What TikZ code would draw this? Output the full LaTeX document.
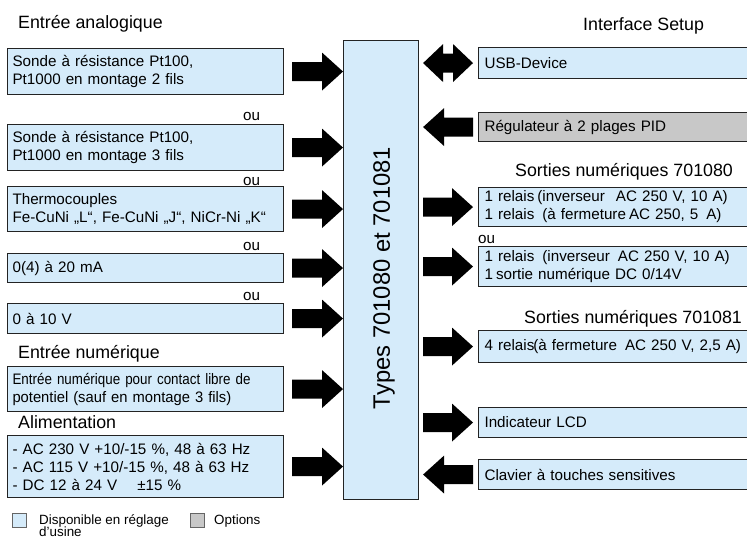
\documentclass[tikz,border=0pt]{standalone}
\usepackage{fontspec}
\setmainfont{Liberation Sans}
\usetikzlibrary{calc}
\definecolor{boxblue}{RGB}{213,235,250}
\definecolor{boxgrey}{RGB}{200,200,200}
\definecolor{edge}{RGB}{35,35,35}
\newcommand{\bxfont}{\fontsize{15.2}{18}\selectfont}
\newcommand{\hdfont}{\fontsize{17.8}{21}\selectfont}
\newcommand{\lgfont}{\fontsize{13.4}{14}\selectfont}
\newcommand{\ttlfont}{\fontsize{23.8}{28}\selectfont}
% right-pointing block arrow: #1 body start, #2 tip
\newcommand{\rarr}[2]{\fill ($(#1)+(0,-9.5)$) -- ($(#2)+(-21,-9.5)$) -- ($(#2)+(-21,-19)$) -- (#2) -- ($(#2)+(-21,19)$) -- ($(#2)+(-21,9.5)$) -- ($(#1)+(0,9.5)$) -- cycle;}
% left-pointing block arrow: #1 body start (right), #2 tip (left)
\newcommand{\larr}[2]{\fill ($(#1)+(0,-9.5)$) -- ($(#2)+(21,-9.5)$) -- ($(#2)+(21,-19)$) -- (#2) -- ($(#2)+(21,19)$) -- ($(#2)+(21,9.5)$) -- ($(#1)+(0,9.5)$) -- cycle;}
% double block arrow: #1 left tip, #2 right tip
\newcommand{\darr}[2]{\fill (#1) -- ($(#1)+(20,-19)$) -- ($(#1)+(20,-9.5)$) -- ($(#2)+(-20,-9.5)$) -- ($(#2)+(-20,-19)$) -- (#2) -- ($(#2)+(-20,19)$) -- ($(#2)+(-20,9.5)$) -- ($(#1)+(20,9.5)$) -- ($(#1)+(20,19)$) -- cycle;}
\begin{document}
\begin{tikzpicture}[x=1pt,y=-1pt,
  lbox/.style={draw=edge, line width=1.1pt, fill=boxblue, anchor=north west,
    inner xsep=5pt, inner ysep=0pt, text width=266pt, align=left, font=\bxfont},
  rbox/.style={draw=edge, line width=1.1pt, fill=boxblue, anchor=north west,
    inner xsep=6pt, inner ysep=0pt, text width=270pt, align=left, font=\bxfont},
  head/.style={anchor=base west, inner sep=0pt, font=\hdfont},
  oulbl/.style={anchor=base west, inner sep=0pt, font=\bxfont},
  lgtxt/.style={anchor=base west, inner sep=0pt, font=\lgfont},
  lgbox/.style={draw=edge!70, line width=0.8pt, anchor=north west, minimum size=14pt, inner sep=0pt}]
\clip (0,0) rectangle (747,539);
\fill[white] (0,0) rectangle (747,539);

% headings
\node[head] (h1) at (18,28.5) {Entrée analogique};
\node[head] (h2) at (18,358) {Entrée numérique};
\node[head] (h3) at (18,428) {Alimentation};
\node[head] (h4) at (583,30.7) {Interface Setup};
\node[head] (h5) at (515,176.7) {Sorties numériques 701080};
\node[head] (h6) at (524,323.3) {Sorties numériques 701081};

% left boxes
\node[lbox, minimum height=46pt] (b1) at (7,48) {Sonde à résistance Pt100,\\Pt1000 en montage 2 fils};
\node[lbox, minimum height=46pt] (b2) at (7,124) {Sonde à résistance Pt100,\\Pt1000 en montage 3 fils};
\node[lbox, minimum height=45pt] (b3) at (7,186) {Thermocouples\\Fe-CuNi „L“, Fe-CuNi „J“, NiCr-Ni „K“};
\node[lbox, minimum height=29pt] (b4) at (7,253) {0(4) à 20 mA};
\node[lbox, minimum height=30pt] (b5) at (7,303) {0 à 10 V};
\node[lbox, minimum height=45pt] (b6) at (7,366) {{\addfontfeature{FakeStretch=0.88}Entrée numérique pour contact libre de}\\{\addfontfeature{FakeStretch=0.97}potentiel (sauf en montage 3 fils)}};
\node[lbox, minimum height=62pt] (b7) at (7,435) {- AC 230 V +10/-15 \%, 48 à 63 Hz\\- AC 115 V +10/-15 \%, 48 à 63 Hz\\- DC 12 à 24 V\hspace{20pt}±15 \%};

% "ou" labels
\node[oulbl] (o1) at (243,120.7) {ou};
\node[oulbl] (o2) at (243,185) {ou};
\node[oulbl] (o3) at (243,250) {ou};
\node[oulbl] (o4) at (243,300.7) {ou};
\node[oulbl] (o5) at (478,243.3) {ou};

% center block
\node[draw=edge, line width=1.1pt, fill=boxblue, anchor=north west, minimum width=75pt, minimum height=459pt, inner sep=0pt] (ctr) at (343,40) {};
\node[rotate=90, font=\ttlfont, inner sep=0pt] (ttl) at (384,278) {Types 701080 et 701081};

% right boxes
\node[rbox, minimum height=31pt] (usb) at (478,47) {USB-Device};
\node[rbox, minimum height=29pt, fill=boxgrey] (pid) at (478,112) {Régulateur à 2 plages PID};
\node[rbox, minimum height=39pt] (r1) at (478,187) {1 relais\hspace{3pt}(inverseur\hspace{11pt}AC 250 V, 10 A)\\1 relais\hspace{8pt}(à fermeture\hspace{3pt}AC 250, 5\hspace{8pt}A)};
\node[rbox, minimum height=40pt] (r2) at (478,246) {1 relais\hspace{8pt}(inverseur\hspace{8pt}AC 250 V, 10 A)\\1\hspace{3pt}sortie numérique DC 0/14V};
\node[rbox, minimum height=32pt] (r3) at (478,330) {4 relais\hspace{-1pt}(à fermeture\hspace{8pt}AC 250 V, 2,5 A)};
\node[rbox, minimum height=30pt] (lcd) at (478,407) {Indicateur LCD};
\node[rbox, minimum height=30pt] (kbd) at (478,459) {Clavier à touches sensitives};

% left arrows
\foreach \b in {b1,b2,b3,b4,b5,b6,b7}{
  \coordinate (s\b) at ($(\b.east)+(8,0)$);
  \coordinate (t\b) at (ctr.west |- \b.east);
  \rarr{s\b}{t\b}
}

% right arrows
\coordinate (dl) at ($(ctr.east |- usb.west)+(4,0)$);
\coordinate (dr) at ($(usb.west)+(-5,0)$);
\darr{dl}{dr}
\foreach \b in {pid,kbd}{
  \coordinate (s\b) at ($(\b.west)+(-5,0)$);
  \coordinate (t\b) at ($(ctr.east |- \b.west)+(4,0)$);
  \larr{s\b}{t\b}
}
\foreach \b in {r1,r2,r3,lcd}{
  \coordinate (s\b) at ($(ctr.east |- \b.west)+(4,0)$);
  \coordinate (t\b) at ($(\b.west)+(-5,0)$);
  \rarr{s\b}{t\b}
}

% legend
\node[lgbox, fill=boxblue] (lg1) at (12,513) {};
\node[lgtxt] (lt1) at (39,524) {Disponible en réglage};
\node[lgtxt] (lt2) at (39,536.5) {d’usine};
\node[lgbox, fill=boxgrey] (lg2) at (190,513) {};
\node[lgtxt] (lt3) at (214,524) {Options};
\end{tikzpicture}
\end{document}
